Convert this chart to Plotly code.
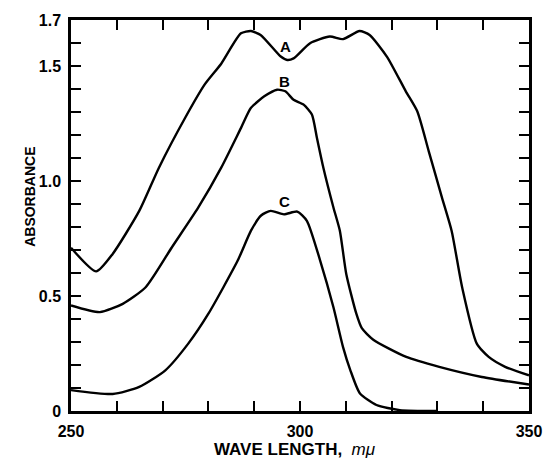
import plotly.graph_objects as go

# Curve A
a_x = [250, 255.5, 259.1, 264.9, 269.2, 274.9, 279.2, 282.8, 287.1, 289.3, 291.4, 295.8, 297.2, 298.6,
       302.2, 306.5, 309.4, 313.0, 315.2, 319.0, 323.1, 325.6, 328.1, 331.0, 333.1, 335.4, 338.6,
       341.2, 344.8, 350]
a_y = [0.71, 0.607, 0.683, 0.870, 1.058, 1.274, 1.42, 1.51, 1.642, 1.652, 1.635, 1.541, 1.526, 1.533,
       1.599, 1.628, 1.617, 1.652, 1.635, 1.54, 1.39, 1.303, 1.13, 0.928, 0.784, 0.538, 0.293,
       0.235, 0.192, 0.155]
# Curve B
b_x = [250, 256.3, 261.3, 266.3, 272.0, 277.8, 282.8, 287.1, 289.3, 292.2, 295.0, 296.8, 298.6,
       300.8, 302.6, 303.7, 305.1, 307.3, 308.7, 310.1, 312.3, 313.5, 316.0, 323.2, 330.4, 339.7, 350]
b_y = [0.459, 0.430, 0.466, 0.538, 0.711, 0.885, 1.058, 1.23, 1.318, 1.368, 1.397, 1.39, 1.353,
       1.332, 1.289, 1.187, 1.058, 0.885, 0.784, 0.596, 0.423, 0.36, 0.31, 0.235, 0.192, 0.148, 0.115]
# Curve C
c_x = [250, 259.1, 264.9, 270.6, 275.6, 280.0, 286.4, 289.3, 291.5, 293.6, 296.5, 299.4, 301.5,
       304.4, 307.3, 309.4, 311.0, 313.1, 316.7, 321.8, 330]
c_y = [0.091, 0.074, 0.105, 0.177, 0.293, 0.423, 0.654, 0.784, 0.85, 0.870, 0.855, 0.867, 0.827,
       0.654, 0.451, 0.278, 0.177, 0.076, 0.026, 0.004, 0.0]

curve_labels = ["A", "B", "C"]
label_x = [296.8, 296.6, 296.6]
label_y = [1.584, 1.433, 0.913]

x_ticks = list(range(250, 351, 10))
x_ticktext = ["250", "", "", "", "", "300", "", "", "", "", "350"]
y_ticks = [round(i * 0.1, 1) for i in range(0, 18)]
y_labels = {0.0: "0", 0.5: "0.5", 1.0: "1.0", 1.5: "1.5", 1.7: "1.7"}
y_ticktext = [y_labels.get(v, "") for v in y_ticks]

FONT = "Liberation Sans"


def bold(items):
    return ["<b>%s</b>" % s if s else "" for s in items]


fig = go.Figure()
for xs, ys in [(a_x, a_y), (b_x, b_y), (c_x, c_y)]:
    fig.add_trace(go.Scatter(x=xs, y=ys, mode="lines",
                             line=dict(color="black", width=2.4, shape="spline", smoothing=0.6),
                             showlegend=False, hoverinfo="skip"))

for t, lx, ly in zip(curve_labels, label_x, label_y):
    fig.add_annotation(x=lx, y=ly, text="<b>%s</b>" % t, showarrow=False,
                       font=dict(family=FONT, size=15, color="black"))

axis_common = dict(showgrid=False, zeroline=False, showline=True, linecolor="black", linewidth=2.5,
                   mirror="ticks", ticks="inside", ticklen=10, tickwidth=2, tickcolor="black",
                   tickfont=dict(family=FONT, size=16, color="black"))

fig.update_xaxes(range=[250, 350], tickmode="array", tickvals=x_ticks, ticktext=bold(x_ticktext),
                 ticklabelstandoff=4, **axis_common)
fig.update_yaxes(range=[0, 1.7], tickmode="array", tickvals=y_ticks, ticktext=bold(y_ticktext),
                 ticklabelstandoff=4, **axis_common)

fig.add_annotation(xref="paper", yref="paper", x=-0.112, y=0.547, text="<b>ABSORBANCE</b>",
                   textangle=-90, showarrow=False, font=dict(family=FONT, size=14, color="black"))
fig.add_annotation(xref="paper", yref="paper", x=0.49, y=-0.099, yanchor="middle",
                   text="<b>WAVE LENGTH,</b>  <i>mμ</i>", showarrow=False,
                   font=dict(family=FONT, size=17, color="black"))

fig.update_layout(width=554, height=462, margin=dict(l=71, r=19, t=18, b=51),
                  paper_bgcolor="white", plot_bgcolor="white")

fig.write_html("out.html")
